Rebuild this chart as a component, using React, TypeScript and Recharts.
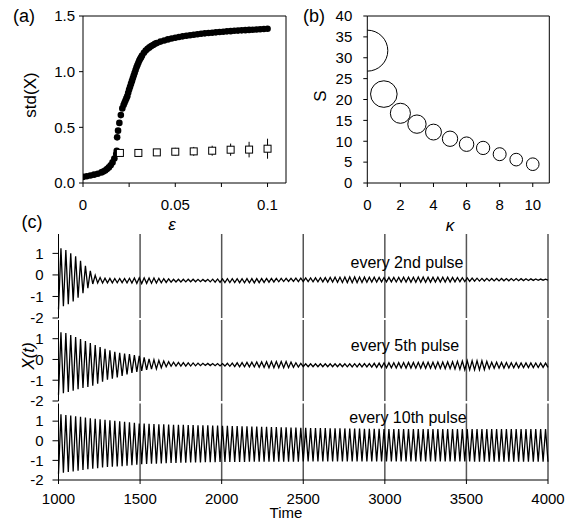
import React from "react";
import {
  ScatterChart,
  Scatter,
  XAxis,
  YAxis,
  ZAxis,
  ErrorBar,
  LineChart,
  Line,
  ReferenceLine,
} from "recharts";

const FONT = "'Liberation Sans', Arial, Helvetica, sans-serif";

// ---- (a) std(X) vs epsilon ----
const epsFilled = [
  0, 0.002, 0.004, 0.006, 0.008, 0.01, 0.011, 0.012, 0.013, 0.014, 0.015, 0.016, 0.017, 0.018,
  0.0183, 0.0185, 0.019, 0.0197, 0.0205, 0.0213, 0.022, 0.0225, 0.023, 0.0235, 0.024,
  0.0245, 0.025, 0.0255, 0.026, 0.0265, 0.027, 0.0275, 0.028, 0.0285, 0.029, 0.0295, 0.03, 0.0305,
  0.031, 0.0315, 0.032, 0.033, 0.034, 0.035, 0.036, 0.037, 0.038, 0.039, 0.04,
  0.042, 0.044, 0.046, 0.048, 0.05, 0.052, 0.054, 0.056, 0.058, 0.06, 0.062, 0.064, 0.066, 0.068,
  0.07, 0.072, 0.074, 0.076, 0.078, 0.08, 0.082, 0.084, 0.086, 0.088, 0.09, 0.092, 0.094, 0.096,
  0.098, 0.1,
];
const stdFilled = [
  0.055, 0.06, 0.067, 0.075, 0.083, 0.095, 0.103, 0.112, 0.125, 0.14, 0.16, 0.185, 0.22, 0.26,
  0.29, 0.41, 0.47, 0.54, 0.61, 0.67, 0.7, 0.72, 0.74, 0.76, 0.78,
  0.81, 0.84, 0.865, 0.89, 0.915, 0.94, 0.965, 0.99, 1.015, 1.04, 1.06, 1.08, 1.1,
  1.115, 1.13, 1.145, 1.17, 1.19, 1.205, 1.218, 1.23, 1.24, 1.25, 1.258,
  1.27, 1.28, 1.29, 1.298, 1.305, 1.311, 1.317, 1.322, 1.327, 1.332, 1.336, 1.34, 1.344, 1.347,
  1.35, 1.353, 1.356, 1.359, 1.362, 1.364, 1.367, 1.369, 1.371, 1.373, 1.375, 1.377, 1.379, 1.381,
  1.383, 1.385,
];
const epsOpen = [0.02, 0.03, 0.04, 0.05, 0.06, 0.07, 0.08, 0.09, 0.1];
const stdOpen = [0.27, 0.27, 0.275, 0.281, 0.284, 0.29, 0.299, 0.3, 0.308];
const stdOpenErr = [0.02, 0.025, 0.03, 0.035, 0.04, 0.045, 0.055, 0.07, 0.09];
const epsTicks = [0, 0.025, 0.05, 0.075, 0.1];
const stdTicks = [0, 0.5, 1, 1.5];

// ---- (b) S vs kappa ----
const kappa = [0, 1, 2, 3, 4, 5, 6, 7, 8, 9, 10];
const sValues = [31.7, 21.3, 16.7, 14.1, 12.2, 10.6, 9.3, 8.4, 6.9, 5.6, 4.5];
const bubbleWeight = [100, 42, 24, 20, 15, 14, 12.5, 10.5, 10, 9.5, 9.5];
const kappaTicks = [0, 2, 4, 6, 8, 10];
const sTicks = [0, 5, 10, 15, 20, 25, 30, 35, 40];

// ---- (c) X(t) traces: envelope of the oscillation ----
const timeTicks = [1000, 1500, 2000, 2500, 3000, 3500, 4000];
const xTicks = [-2, -1, 0, 1];
const pulsePeriod = 30;

const env2ndT = [1000, 1030, 1065, 1100, 1130, 1160, 1190, 1220, 1250, 1300, 1400, 1500, 1600, 1700, 1800, 1900, 2000, 2200, 2400, 2600, 2800, 3000, 3200, 3400, 3600, 3800, 4000];
const env2ndUp = [1.25, 1.23, 1.05, 0.9, 0.7, 0.46, 0.23, 0.0, -0.12, -0.16, -0.17, -0.13, -0.15, -0.2, -0.2, -0.21, -0.18, -0.17, -0.16, -0.13, -0.09, -0.12, -0.1, -0.11, -0.16, -0.17, -0.2];
const env2ndLo = [-1.6, -1.45, -1.35, -1.18, -1.0, -0.77, -0.54, -0.36, -0.38, -0.37, -0.36, -0.4, -0.38, -0.33, -0.32, -0.31, -0.35, -0.37, -0.3, -0.32, -0.36, -0.32, -0.34, -0.33, -0.28, -0.27, -0.24];

const env5thT = [1000, 1050, 1100, 1150, 1200, 1250, 1300, 1350, 1400, 1450, 1500, 1550, 1600, 1650, 1700, 1800, 1900, 2000, 2100, 2200, 2300, 2400, 2500, 2700, 2900, 3000, 3200, 3400, 3500, 3600, 3650, 3800, 4000];
const env5thUp = [1.33, 1.26, 1.1, 0.94, 0.77, 0.61, 0.48, 0.35, 0.29, 0.24, 0.16, 0.03, -0.03, -0.08, -0.13, -0.16, -0.19, -0.2, -0.16, -0.13, -0.1, -0.1, -0.21, -0.21, -0.2, -0.16, -0.14, -0.12, -0.06, -0.06, -0.13, -0.16, -0.18];
const env5thLo = [-1.7, -1.58, -1.48, -1.37, -1.29, -1.13, -0.97, -0.89, -0.77, -0.65, -0.57, -0.48, -0.45, -0.36, -0.32, -0.32, -0.29, -0.31, -0.35, -0.36, -0.4, -0.4, -0.35, -0.35, -0.36, -0.4, -0.42, -0.44, -0.5, -0.5, -0.43, -0.4, -0.38];

const env10thT = [1000, 1050, 1100, 1200, 1300, 1400, 1500, 1700, 2000, 2500, 3000, 3500, 4000];
const env10thUp = [1.36, 1.31, 1.26, 1.14, 1.05, 0.97, 0.88, 0.82, 0.77, 0.66, 0.6, 0.6, 0.6];
const env10thLo = [-1.68, -1.6, -1.55, -1.43, -1.34, -1.29, -1.2, -1.13, -1.08, -1.06, -1.05, -1.06, -1.07];

function envAt(times: number[], vals: number[], t: number) {
  for (let i = 1; i < times.length; i++) {
    if (t <= times[i]) {
      const f = (t - times[i - 1]) / (times[i] - times[i - 1]);
      return vals[i - 1] + f * (vals[i] - vals[i - 1]);
    }
  }
  return vals[vals.length - 1];
}

// troughs and crests alternate every half period between the read envelopes
function trace(times: number[], up: number[], lo: number[]) {
  const pts: { t: number; x: number }[] = [];
  for (let k = 0; 1000 + (k * pulsePeriod) / 2 <= 4000; k++) {
    const t = 1000 + (k * pulsePeriod) / 2;
    pts.push({ t, x: k % 2 === 0 ? envAt(times, lo, t) : envAt(times, up, t) });
  }
  return pts;
}

const filledData = epsFilled.map((e, i) => ({ eps: e, std: stdFilled[i] }));
const openData = epsOpen.map((e, i) => ({ eps: e, std: stdOpen[i], err: stdOpenErr[i] }));
const bubbleData = kappa.map((k, i) => ({ k, s: sValues[i], w: bubbleWeight[i] }));
const traces = [
  { label: "every 2nd pulse", data: trace(env2ndT, env2ndUp, env2ndLo) },
  { label: "every 5th pulse", data: trace(env5thT, env5thUp, env5thLo) },
  { label: "every 10th pulse", data: trace(env10thT, env10thUp, env10thLo) },
];

const tickStyle = { fill: "#000", fontSize: 15, fontFamily: FONT };

const Dot = (p: any) => <circle cx={p.cx} cy={p.cy} r={3.3} fill="#000" />;
const OpenSquare = (p: any) => (
  <rect x={p.cx - 3.5} y={p.cy - 3.5} width={7} height={7} fill="#fff" stroke="#000" strokeWidth={1} />
);
const Bubble = (p: any) => {
  const r = p.width ? p.width / 2 : Math.sqrt((p.size || 64) / Math.PI);
  return <circle cx={p.cx} cy={p.cy} r={r} fill="none" stroke="#000" strokeWidth={1} />;
};

function Txt({ x, y, size, children, rotate, italic }: any) {
  return (
    <div
      style={{
        position: "absolute",
        left: x,
        top: y,
        transform: `translate(-50%, -50%)${rotate ? " rotate(-90deg)" : ""}`,
        fontFamily: FONT,
        fontSize: size,
        fontStyle: italic ? "italic" : "normal",
        whiteSpace: "nowrap",
        lineHeight: 1,
        color: "#000",
      }}
    >
      {children}
    </div>
  );
}

// placement of the three stacked trace panels (mb leaves room for the -2 label)
const stack = [
  { top: 228, height: 98, mt: 6, mb: 8, axis: false },
  { top: 318, height: 91, mt: 2, mb: 8, axis: false },
  { top: 401, height: 115, mt: 2.5, mb: 0, axis: true },
];

export default function App() {
  return (
    <div style={{ position: "absolute", left: 0, top: 0, width: 580, height: 521, background: "#fff" }}>
      {/* (a) */}
      <div style={{ position: "absolute", left: 0, top: 0 }}>
        <ScatterChart width={295} height={215} margin={{ top: 16, right: 9, bottom: 0, left: 0 }}>
          <XAxis
            type="number"
            dataKey="eps"
            domain={[0, 0.11]}
            ticks={epsTicks}
            interval={0}
            tickFormatter={(v: number) => (v === 0 ? "0" : v === 0.05 ? "0.05" : v === 0.1 ? "0.1" : "")}
            height={32}
            stroke="#000"
            tick={tickStyle}
            tickSize={4}
            tickMargin={12}
            allowDataOverflow
          />
          <YAxis
            type="number"
            dataKey="std"
            domain={[0, 1.5]}
            ticks={stdTicks}
            interval={0}
            tickFormatter={(v: number) => v.toFixed(1)}
            width={83}
            stroke="#000"
            tick={tickStyle}
            tickSize={4}
            tickMargin={4}
          />
          <ReferenceLine y={1.5} stroke="#000" />
          <ReferenceLine x={0.11} stroke="#000" />
          <Scatter data={filledData} shape={Dot} isAnimationActive={false} />
          <Scatter data={openData} shape={OpenSquare} isAnimationActive={false}>
            <ErrorBar dataKey="err" direction="y" width={0} stroke="#000" strokeWidth={1} />
          </Scatter>
        </ScatterChart>
      </div>

      {/* (b) */}
      <div style={{ position: "absolute", left: 290, top: 0 }}>
        <ScatterChart width={270} height={215} margin={{ top: 16, right: 10.7, bottom: 0, left: 0 }}>
          <XAxis
            type="number"
            dataKey="k"
            domain={[0, 11]}
            ticks={kappaTicks}
            interval={0}
            height={32}
            stroke="#000"
            tick={tickStyle}
            tickSize={4}
            tickMargin={12}
            allowDataOverflow
          />
          <YAxis
            type="number"
            dataKey="s"
            domain={[0, 40]}
            ticks={sTicks}
            interval={0}
            width={77.3}
            stroke="#000"
            tick={tickStyle}
            tickSize={4}
            tickMargin={11}
            allowDataOverflow
          />
          <ZAxis type="number" dataKey="w" domain={[0, 100]} range={[0, 1320]} />
          <ReferenceLine y={40} stroke="#000" />
          <ReferenceLine x={11} stroke="#000" />
          <Scatter data={bubbleData} shape={Bubble} isAnimationActive={false} />
        </ScatterChart>
      </div>

      {/* (c) */}
      {traces.map((tr, i) => {
        const s = stack[i];
        return (
          <div key={i} style={{ position: "absolute", left: 0, top: s.top }}>
            <LineChart width={580} height={s.height} margin={{ top: s.mt, right: 32, bottom: s.mb, left: 0 }} data={tr.data}>
              <XAxis
                type="number"
                dataKey="t"
                domain={[1000, 4000]}
                ticks={timeTicks}
                interval={0}
                hide={!s.axis}
                height={s.axis ? 36 : 0}
                stroke="#000"
                tick={tickStyle}
                tickSize={4}
                tickMargin={9}
              />
              <YAxis
                type="number"
                domain={[-2, 1.9]}
                ticks={xTicks}
                interval={0}
                width={58.5}
                stroke="#000"
                tick={tickStyle}
                tickSize={6}
                tickMargin={9}
                allowDataOverflow
              />
              {timeTicks.slice(1).map((t) => (
                <ReferenceLine key={t} x={t} stroke="#555" strokeWidth={1.5} />
              ))}
              <Line
                dataKey="x"
                type="linear"
                stroke="#000"
                strokeWidth={1.3}
                dot={false}
                isAnimationActive={false}
              />
            </LineChart>
          </div>
        );
      })}

      <Txt x={24} y={16} size={18}>(a)</Txt>
      <Txt x={314} y={16} size={18}>(b)</Txt>
      <Txt x={32} y={222} size={18}>(c)</Txt>
      <Txt x={30} y={95} size={17} rotate>std(X)</Txt>
      <Txt x={320} y={96} size={17} rotate>S</Txt>
      <Txt x={172} y={224} size={17} italic>ε</Txt>
      <Txt x={450} y={225} size={17} italic>κ</Txt>
      <Txt x={28} y={356} size={17} rotate italic>X(t)</Txt>
      <Txt x={286} y={512} size={15}>Time</Txt>
      <Txt x={407} y={263} size={16}>{traces[0].label}</Txt>
      <Txt x={405} y={346} size={16}>{traces[1].label}</Txt>
      <Txt x={408} y={418} size={16}>{traces[2].label}</Txt>
    </div>
  );
}
